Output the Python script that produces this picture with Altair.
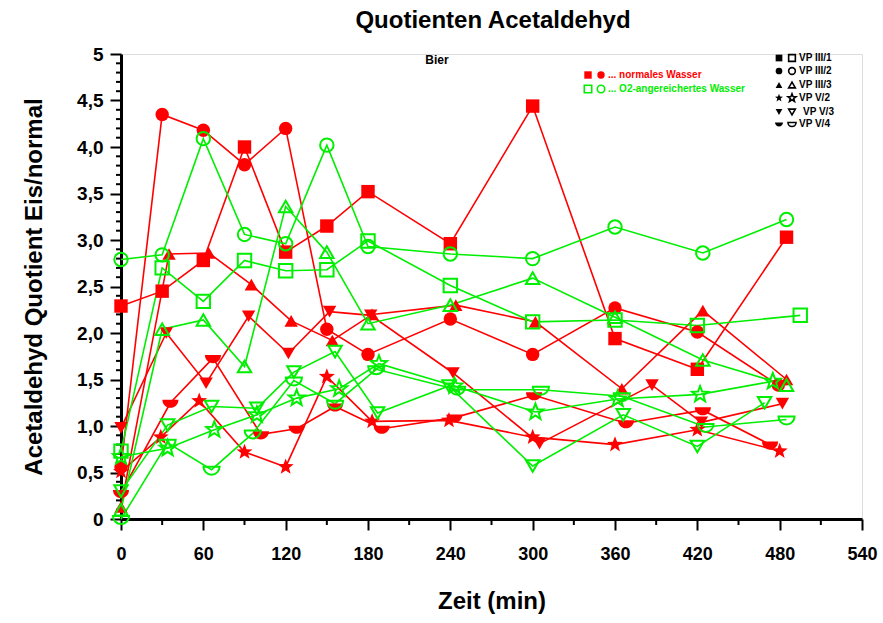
import altair as alt
import pandas as pd

# ---------------- data ----------------
series_names = ["VP III/1", "VP III/2", "VP III/3", "VP V/2", "VP V/3", "VP V/4"]

# normales Wasser (red, filled)
r_t = [
    [0, 30, 60, 90, 120, 150, 180, 240, 300, 360, 420, 485],
    [0, 30, 60, 90, 120, 150, 180, 240, 300, 360, 420, 479],
    [0, 35, 64, 95, 124, 154, 183, 244, 302, 365, 424, 485],
    [0, 29, 57, 90, 120, 150, 183, 239, 300, 360, 420, 480],
    [0, 33, 62, 93, 122, 152, 182, 242, 305, 387, 423, 482],
    [0, 36, 67, 102, 128, 156, 190, 243, 301, 368, 424, 473],
]
r_v = [
    [2.29, 2.45, 2.78, 4.00, 2.87, 3.15, 3.52, 2.96, 4.44, 1.94, 1.61, 3.03],
    [0.56, 4.35, 4.18, 3.81, 4.20, 2.04, 1.77, 2.15, 1.77, 2.27, 2.01, 1.44],
    [0.13, 2.85, 2.86, 2.52, 2.13, 1.92, 2.20, 2.30, 2.12, 1.40, 2.24, 1.50],
    [0.51, 0.88, 1.27, 0.72, 0.56, 1.53, 1.05, 1.06, 0.88, 0.80, 0.96, 0.73],
    [0.98, 2.00, 1.46, 2.18, 1.78, 2.23, 2.19, 1.57, 0.81, 1.44, 1.04, 1.24],
    [0.28, 1.25, 1.73, 0.91, 0.97, 1.21, 0.97, 1.09, 1.33, 1.03, 1.17, 0.80],
]

# O2-angereichertes Wasser (green, open)
g_t = [
    [0, 30, 60, 90, 120, 150, 180, 240, 300, 360, 420, 495],
    [0, 30, 60, 90, 120, 150, 180, 240, 300, 360, 424, 485],
    [0, 30, 60, 90, 120, 150, 180, 240, 300, 360, 424, 485],
    [0, 34, 68, 99, 128, 159, 188, 243, 302, 362, 422, 475],
    [0, 34, 66, 99, 126, 156, 187, 239, 300, 366, 420, 469],
    [0, 34, 66, 96, 126, 156, 186, 245, 306, 365, 426, 485],
]
g_v = [
    [0.73, 2.70, 2.34, 2.78, 2.67, 2.68, 2.99, 2.51, 2.12, 2.14, 2.08, 2.19],
    [2.79, 2.84, 4.09, 3.06, 2.96, 4.02, 2.93, 2.85, 2.80, 3.14, 2.86, 3.22],
    [0.10, 2.04, 2.14, 1.64, 3.36, 2.87, 2.10, 2.30, 2.59, 2.17, 1.71, 1.44],
    [0.67, 0.76, 0.96, 1.12, 1.30, 1.40, 1.67, 1.43, 1.15, 1.29, 1.34, 1.48],
    [0.30, 1.01, 1.21, 1.19, 1.58, 1.80, 1.14, 1.43, 0.57, 1.12, 0.78, 1.25],
    [0.00, 0.82, 0.53, 0.92, 1.49, 1.24, 1.61, 1.39, 1.39, 1.32, 0.99, 1.07],
]

x_ticks = [0, 60, 120, 180, 240, 300, 360, 420, 480, 540]
x_minor = [30, 90, 150, 210, 270, 330, 390, 450, 510]
y_ticks = [0, 0.5, 1, 1.5, 2, 2.5, 3, 3.5, 4, 4.5, 5]
y_minor = [round(i / 10, 1) for i in range(1, 50) if i % 5 != 0]

# ---------------- styles ----------------
RED = "#ff0000"
GREEN = "#00ee00"
FONT = "Liberation Sans"
STAR = ("M0,-1.25L0.31,-0.43L1.19,-0.39L0.5,0.16L0.74,1.01L0,0.52"
        "L-0.74,1.01L-0.5,0.16L-1.19,-0.39L-0.31,-0.43Z")
HALF = "M-1.2,-0.45L1.2,-0.45A1.2,1.2,0,0,1,-1.2,-0.45Z"
shape_range = ["square", "circle", "triangle-up", STAR, "triangle-down", HALF]

rows = []
for water, T, V in (("normal", r_t, r_v), ("O2", g_t, g_v)):
    for name, ts, vs in zip(series_names, T, V):
        for t, v in zip(ts, vs):
            rows.append({"t": t, "v": v, "series": name, "water": water,
                         "key": water + name})
df = pd.DataFrame(rows)

W, H = 741, 465

x_enc = alt.X("t:Q", scale=alt.Scale(domain=[0, 540], nice=False, zero=False),
              axis=alt.Axis(values=x_ticks, title="Zeit (min)", grid=False,
                            tickSize=11, tickWidth=2, domainWidth=3, domainColor="black",
                            tickColor="black", labelFontSize=18, labelFontWeight="bold",
                            labelFont=FONT, labelColor="black", labelPadding=15,
                            titleFont=FONT, titleFontSize=24, titleFontWeight="bold",
                            titlePadding=26, titleColor="black", labelFlush=False))
y_enc = alt.Y("v:Q", scale=alt.Scale(domain=[0, 5], nice=False),
              axis=alt.Axis(values=y_ticks, title="Acetaldehyd Quotient Eis/normal",
                            grid=False, tickSize=11, tickWidth=2, domainWidth=3,
                            domainColor="black", tickColor="black",
                            labelExpr="datum.value == 0 ? '0' : datum.value == 5 ? '5' : replace(format(datum.value, '.1f'), '.', ',')",
                            labelFontSize=19, labelFontWeight="bold", labelFont=FONT,
                            labelColor="black", labelPadding=7, titleFont=FONT,
                            titleFontSize=24, titleFontWeight="bold", titlePadding=30,
                            titleColor="black", labelFlush=False))

color_scale = alt.Scale(domain=["normal", "O2"], range=[RED, GREEN])
shape_scale = alt.Scale(domain=series_names, range=shape_range)

lines = alt.Chart(df).mark_line(strokeWidth=1.6, clip=False).encode(
    x=x_enc, y=y_enc,
    color=alt.Color("water:N", scale=color_scale, legend=None),
    detail="key:N", order="t:Q")

red_pts = alt.Chart(df).transform_filter("datum.water == 'normal'").mark_point(
    filled=True, size=180, opacity=1, color=RED).encode(
    x="t:Q", y="v:Q", shape=alt.Shape("series:N", scale=shape_scale, legend=None))

green_pts = alt.Chart(df).transform_filter("datum.water == 'O2'").mark_point(
    filled=False, size=180, opacity=1, strokeWidth=2, color=GREEN).encode(
    x="t:Q", y="v:Q", shape=alt.Shape("series:N", scale=shape_scale, legend=None))

ymin_df = pd.DataFrame({"m": y_minor})
xmin_df = pd.DataFrame({"m": x_minor})
y_minor_ticks = alt.Chart(ymin_df).mark_rule(color="black", strokeWidth=2).encode(
    y="m:Q", x=alt.value(-5), x2=alt.value(0))
x_minor_ticks = alt.Chart(xmin_df).mark_rule(color="black", strokeWidth=2).encode(
    x="m:Q", y=alt.value(H), y2=alt.value(H + 6))

layers = [y_minor_ticks, x_minor_ticks, lines, red_pts, green_pts]

one = pd.DataFrame({"a": [0]})


def txt(s, x, y, size, color="black", align="left"):
    kw = dict(text=s, fontSize=size, fontWeight="bold", font=FONT, color=color,
              align=align, baseline="middle")
    return alt.Chart(one).mark_text(**kw).encode(x=alt.value(x), y=alt.value(y))


def sym(shape, x, y, filled, color, size=55):
    if filled:
        m = alt.Chart(one).mark_point(shape=shape, filled=True, size=size, opacity=1,
                                      color=color)
    else:
        m = alt.Chart(one).mark_point(shape=shape, filled=False, size=size, opacity=1,
                                      strokeWidth=1.6, color=color)
    return m.encode(x=alt.value(x), y=alt.value(y))


# title and subtitle
layers.append(txt("Quotienten Acetaldehyd", 372, -33, 24, align="center"))
layers.append(txt("Bier", 316, 6, 12, align="center"))

# left legend (water type)
layers += [sym("square", 467, 21, True, RED), sym("circle", 480, 21, True, RED),
           txt("... normales Wasser", 487, 21, 10, color=RED)]
layers += [sym("square", 467, 35, False, GREEN), sym("circle", 480, 35, False, GREEN),
           txt("... O2-angereichertes Wasser", 487, 35, 10, color=GREEN)]

# right legend (series)
ys = [4, 17, 31, 44, 58, 70]
for name, shp, yy in zip(series_names, shape_range, ys):
    layers.append(sym(shp, 658, yy, True, "black", size=45))
    layers.append(sym(shp, 671, yy, False, "black", size=45))
    layers.append(txt(name, 678 if name != "VP V/3" else 682, yy, 10))

chart = alt.layer(*layers).properties(
    width=W, height=H,
    autosize=alt.AutoSizeParams(type="none"),
    padding={"left": 121, "top": 54, "right": 21, "bottom": 104},
).configure_view(stroke=None).configure(background="white")

chart.save("out.html", embed_options={"renderer": "svg", "actions": False})
